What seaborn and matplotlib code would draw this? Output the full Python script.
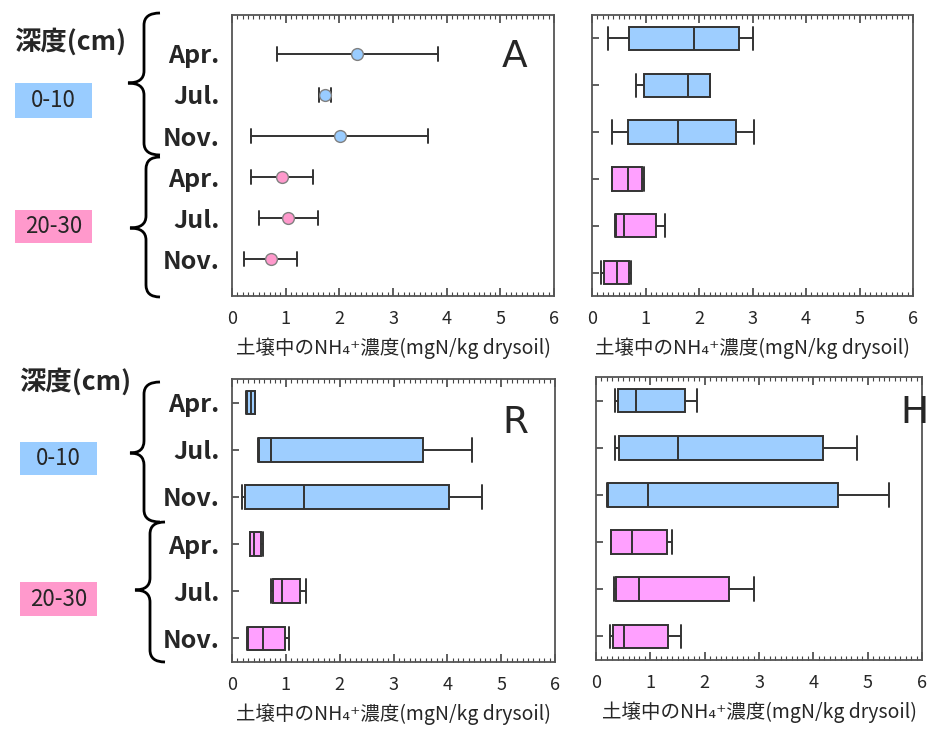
import numpy as np
import pandas as pd
import seaborn as sns
import matplotlib.pyplot as plt
from matplotlib.path import Path
from matplotlib.patches import PathPatch, Rectangle
from matplotlib.ticker import MultipleLocator

months = ["Apr.", "Jul.", "Nov."]
depths = ["0-10", "20-30"]

# top-left: mean with min/max range
pt_low = [0.83, 1.62, 0.36, 0.35, 0.50, 0.22]
pt_mid = [2.32, 1.73, 2.01, 0.93, 1.05, 0.73]
pt_high = [3.83, 1.84, 3.65, 1.50, 1.61, 1.22]

# top-right (A) box stats: min, q1, median, q3, max
a_low = [0.30, 0.82, 0.37, 0.37, 0.43, 0.17]
a_q1 = [0.69, 0.97, 0.67, 0.38, 0.45, 0.22]
a_med = [1.91, 1.80, 1.60, 0.67, 0.59, 0.47]
a_q3 = [2.75, 2.21, 2.69, 0.94, 1.20, 0.70]
a_high = [3.00, 2.21, 3.03, 0.98, 1.37, 0.72]

# bottom-left (R)
r_low = [0.26, 0.49, 0.19, 0.33, 0.72, 0.27]
r_q1 = [0.28, 0.51, 0.25, 0.34, 0.76, 0.29]
r_med = [0.35, 0.72, 1.34, 0.41, 0.93, 0.57]
r_q3 = [0.43, 3.54, 4.04, 0.54, 1.26, 0.98]
r_high = [0.43, 4.45, 4.64, 0.58, 1.37, 1.06]

# bottom-right (H)
h_low = [0.35, 0.35, 0.21, 0.28, 0.34, 0.25]
h_q1 = [0.40, 0.42, 0.23, 0.28, 0.37, 0.31]
h_med = [0.74, 1.50, 0.96, 0.66, 0.80, 0.51]
h_q3 = [1.63, 4.18, 4.46, 1.31, 2.45, 1.32]
h_high = [1.86, 4.80, 5.40, 1.39, 2.90, 1.56]

xlabel = "土壌中のNH₄⁺濃度(mgN/kg drysoil)"

box_pal = {"0-10": "#9ECEFF", "20-30": "#FFA0FF"}
pt_pal = {"0-10": "#99CCFF", "20-30": "#FF99CC"}
tag_colors = {"0-10": "#99CCFF", "20-30": "#FF99CC"}

groups = [f"{d} {m}" for d in depths for m in months]


def long_frame(*cols):
    rows = []
    for i, g in enumerate(groups):
        for c in cols:
            rows.append({"group": g, "depth": g.split()[0], "value": c[i]})
    return pd.DataFrame(rows)


sns.set_style("white")
plt.rcParams["font.family"] = ["Noto Sans CJK JP", "DejaVu Sans"]

W, H = 930, 731
fig = plt.figure(figsize=(W / 100, H / 100), dpi=100)


def px_axes(l, t, r, b):
    return fig.add_axes([l / W, 1 - b / H, (r - l) / W, (b - t) / H])


ax_pt = px_axes(232, 15, 554, 296)
ax_a = px_axes(592, 15, 913, 296)
ax_r = px_axes(232, 379, 555, 662)
ax_h = px_axes(596, 377, 922, 660)

# points with range bars
df_pt = long_frame(pt_low, pt_mid, pt_high)
sns.pointplot(data=df_pt, x="value", y="group", hue="depth", order=groups,
              hue_order=depths, palette=pt_pal, estimator="median",
              errorbar=lambda v: (v.min(), v.max()), capsize=0.34,
              markers="o", linestyle="none", markersize=8.5, dodge=False,
              err_kws={"color": "#333333", "linewidth": 1.4, "zorder": 1},
              legend=False, ax=ax_pt)
for ln in ax_pt.lines:
    if ln.get_marker() == "o":
        ln.set_markeredgecolor("#808080")
        ln.set_markeredgewidth(1.0)
        ln.set_zorder(3)

for ax, cols in [(ax_a, (a_low, a_q1, a_med, a_q3, a_high)),
                 (ax_r, (r_low, r_q1, r_med, r_q3, r_high)),
                 (ax_h, (h_low, h_q1, h_med, h_q3, h_high))]:
    sns.boxplot(data=long_frame(*cols), x="value", y="group", hue="depth",
                order=groups, hue_order=depths, palette=box_pal, dodge=False,
                saturation=1, width=0.5, whis=(0, 100), linecolor="#333333",
                linewidth=1.4, fliersize=0, legend=False, capwidths=0.5, ax=ax)


def style(ax, labels, ylen):
    ax.set_xlim(0, 6)
    ax.xaxis.set_major_locator(MultipleLocator(1))
    ax.xaxis.set_minor_locator(MultipleLocator(0.1))
    ax.tick_params(axis="x", which="both", direction="in", top=True,
                   bottom=True, color="#444444", labelsize=13, pad=10)
    ax.tick_params(axis="x", which="major", length=6, width=1.2)
    ax.tick_params(axis="x", which="minor", length=3, width=0.8)
    ax.set_xlabel(xlabel, fontsize=14, labelpad=7)
    ax.set_ylabel("")
    ax.set_yticks(range(6))
    if labels:
        ax.set_yticklabels(months * 2, fontsize=18, fontweight="bold")
    else:
        ax.set_yticklabels([])
    ax.tick_params(axis="y", direction="in", length=ylen, width=1.2,
                   left=True, right=False, color="#444444", pad=9)
    for s in ax.spines.values():
        s.set_visible(True)
        s.set_color("#555555")
        s.set_linewidth(1.3)


style(ax_pt, True, 0)
style(ax_a, False, 5)
style(ax_r, True, 5)
style(ax_h, False, 5)
ax_pt.set_ylim(5.9, -0.95)
for ax in (ax_a, ax_r, ax_h):
    ax.set_ylim(5.5, -0.5)

# panel letters
fig.text(515 / W, 1 - 57 / H, "A", fontsize=27, ha="center", va="center",
         family="DejaVu Sans")
fig.text(515 / W, 1 - 423 / H, "R", fontsize=27, ha="center", va="center",
         family="DejaVu Sans")
fig.text(914 / W, 1 - 413 / H, "H", fontsize=27, ha="center", va="center",
         family="DejaVu Sans")


def brace(x_end, x_mid, x_tip, y0, y_tip, y1, r=12):
    pts = [(x_end, y0), (x_mid, y0), (x_mid, y0 + r),
           (x_mid, y_tip - r),
           (x_mid, y_tip), (x_tip, y_tip),
           (x_mid, y_tip), (x_mid, y_tip + r),
           (x_mid, y1 - r),
           (x_mid, y1), (x_end, y1)]
    codes = [Path.MOVETO, Path.CURVE3, Path.CURVE3, Path.LINETO,
             Path.CURVE3, Path.CURVE3, Path.CURVE3, Path.CURVE3,
             Path.LINETO, Path.CURVE3, Path.CURVE3]
    verts = [(x / W, 1 - y / H) for x, y in pts]
    fig.patches.append(PathPatch(Path(verts, codes), transform=fig.transFigure,
                                 facecolor="none", edgecolor="black", lw=2.0))


def tag(text, x0, y0, x1, y1, color):
    fig.patches.append(Rectangle((x0 / W, 1 - y1 / H), (x1 - x0) / W,
                                 (y1 - y0) / H, transform=fig.transFigure,
                                 facecolor=color, edgecolor="none"))
    fig.text((x0 + x1) / 2 / W, 1 - (y0 + y1) / 2 / H, text, fontsize=16,
             ha="center", va="center")


for b in [(160, 144, 128, 13, 83, 155), (160, 146, 130, 157, 228, 297),
          (160, 144, 130, 382, 453, 522), (165, 150, 135, 522, 590, 662)]:
    brace(*b)

fig.text(70 / W, 1 - 42 / H, "深度(cm)", fontsize=19, fontweight="bold",
         ha="center", va="center")
fig.text(75 / W, 1 - 382 / H, "深度(cm)", fontsize=19, fontweight="bold",
         ha="center", va="center")
tag("0-10", 15, 83, 92, 118, tag_colors["0-10"])
tag("20-30", 15, 210, 92, 243, tag_colors["20-30"])
tag("0-10", 20, 442, 97, 475, tag_colors["0-10"])
tag("20-30", 20, 582, 97, 616, tag_colors["20-30"])

fig.savefig("out.png", dpi=100)
